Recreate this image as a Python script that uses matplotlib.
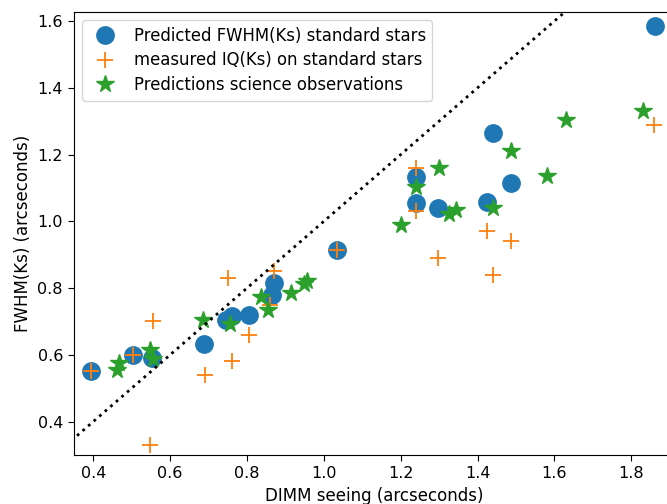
import numpy as np
import matplotlib
matplotlib.use('Agg')
import matplotlib.pyplot as plt

# predicted FWHM for the standard stars
pred_x = [0.395, 0.504, 0.553, 0.689, 0.746, 0.762, 0.806, 0.866, 0.870, 1.035,
          1.240, 1.240, 1.296, 1.425, 1.441, 1.486, 1.861]
pred_y = [0.553, 0.600, 0.592, 0.633, 0.703, 0.717, 0.718, 0.778, 0.815, 0.915,
          1.132, 1.055, 1.040, 1.059, 1.266, 1.115, 1.585]

# measured IQ on the standard stars
meas_x = [0.395, 0.504, 0.555, 0.548, 0.690, 0.750, 0.761, 0.806, 0.861, 0.871,
          1.035, 1.240, 1.240, 1.296, 1.425, 1.441, 1.486, 1.860]
meas_y = [0.553, 0.600, 0.700, 0.331, 0.541, 0.830, 0.581, 0.660, 0.750, 0.850,
          0.915, 1.159, 1.030, 0.890, 0.970, 0.840, 0.940, 1.289]

# predictions for the science observations
sci_x = [0.462, 0.466, 0.548, 0.555, 0.685, 0.755, 0.836, 0.855, 0.914, 0.948,
         0.956, 1.200, 1.240, 1.300, 1.326, 1.345, 1.441, 1.486, 1.581, 1.631, 1.830]
sci_y = [0.556, 0.576, 0.616, 0.588, 0.703, 0.693, 0.773, 0.735, 0.785, 0.812,
         0.820, 0.990, 1.102, 1.159, 1.023, 1.034, 1.040, 1.212, 1.136, 1.302, 1.331]

plt.rcParams['xtick.labelsize'] = 11.5
plt.rcParams['ytick.labelsize'] = 11.5
plt.rcParams['xtick.major.size'] = 4
plt.rcParams['ytick.major.size'] = 4
plt.rcParams['xtick.major.pad'] = 4
plt.rcParams['ytick.major.pad'] = 4

fig = plt.figure(figsize=(6.67, 5.04), dpi=100)
ax = fig.add_axes([74 / 667, 49 / 504, 600 / 667, 443 / 504])

ax.plot(pred_x, pred_y, 'o', color='C0', ms=12.5, label='Predicted FWHM(Ks) standard stars')
ax.plot(meas_x, meas_y, '+', color='C1', ms=12, mew=1.3, label='measured IQ(Ks) on standard stars')
ax.plot(sci_x, sci_y, '*', color='C2', ms=13, label='Predictions science observations')

line = np.array([0.3, 2.0])
ax.plot(line, line, ':', color='k', lw=2)

ax.set_xlim(0.35, 1.911)
ax.set_ylim(0.3, 1.627)
ax.set_xticks([0.4, 0.6, 0.8, 1.0, 1.2, 1.4, 1.6, 1.8])
ax.set_yticks([0.4, 0.6, 0.8, 1.0, 1.2, 1.4, 1.6])
ax.set_xlabel('DIMM seeing (arcseconds)', fontsize=12)
ax.set_ylabel('FWHM(Ks) (arcseconds)', fontsize=12)
ax.legend(loc='upper left', fontsize=11.9, handlelength=1.9, labelspacing=0.4)

fig.savefig('out.png', dpi=100)
